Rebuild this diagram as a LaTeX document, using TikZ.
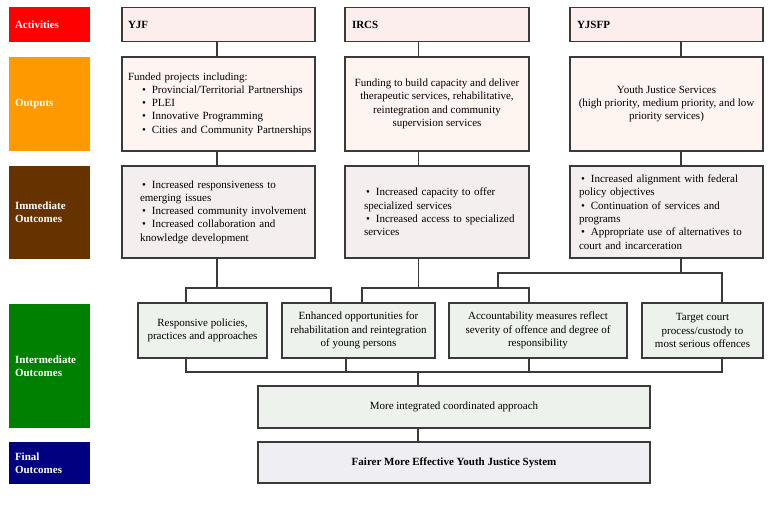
\documentclass[tikz,border=0pt]{standalone}
\usepackage{fontspec}
\setmainfont{Liberation Serif}
\usetikzlibrary{positioning}

\definecolor{actred}{HTML}{FF0000}
\definecolor{outorange}{HTML}{FF9900}
\definecolor{immbrown}{HTML}{663300}
\definecolor{intgreen}{HTML}{008000}
\definecolor{finnavy}{HTML}{000080}
\definecolor{actfill}{HTML}{FDEEEE}
\definecolor{outfill}{HTML}{FEF4F0}
\definecolor{immfill}{HTML}{F4EEEE}
\definecolor{intfill}{HTML}{EEF2EC}
\definecolor{finfill}{HTML}{EEEEF3}
\definecolor{boxline}{HTML}{3A3A3A}

\newcommand{\blt}[1]{\mbox{\hspace*{2pt}\textbullet\hspace{6pt}#1}}
\newcommand{\sblt}[1]{\mbox{\hspace*{14pt}\textbullet\hspace{6pt}#1}}

\tikzset{
  every node/.style={font=\fontsize{11}{13.3}\selectfont},
  cat/.style={rectangle, text=white, font=\fontsize{11}{13.3}\selectfont\bfseries,
    minimum width=81pt, text width=69pt, inner sep=6pt, align=left},
  cell/.style={rectangle, draw=boxline, line width=1.1pt, inner sep=6pt},
  link/.style={draw=boxline, line width=1.1pt}
}

\begin{document}
\begin{tikzpicture}[x=1pt,y=-1pt]
			\useasboundingbox (0,0) rectangle (770,511);
			
			% Row labels
			\node[cat, fill=actred, minimum height=35pt] (catAct) at (49.5,24.5) {Activities};
			\node[cat, fill=outorange, minimum height=94pt] (catOut) at (49.5,104) {Outputs};
			\node[cat, fill=immbrown, minimum height=93pt] (catImm) at (49.5,212.5) {Immediate\\Outcomes};
			\node[cat, fill=intgreen, minimum height=124pt] (catInt) at (49.5,366) {Intermediate\\Outcomes};
			\node[cat, fill=finnavy, minimum height=42pt] (catFin) at (49.5,463) {Final\\Outcomes};
			
			% Activities
			\node[cell, fill=actfill, minimum width=193pt, minimum height=34pt, text width=181pt, align=left, font=\fontsize{11}{13.3}\selectfont\bfseries] (yjf) at (218.5,24.5) {YJF};
			\node[cell, fill=actfill, minimum width=184pt, minimum height=34pt, text width=170pt, inner xsep=7pt, align=left, font=\fontsize{11}{13.3}\selectfont\bfseries] (ircs) at (437,24.5) {IRCS};
			\node[cell, fill=actfill, minimum width=193pt, minimum height=34pt, text width=179pt, inner xsep=7pt, align=left, font=\fontsize{11}{13.3}\selectfont\bfseries] (yjsfp) at (666.5,24.5) {YJSFP};
			
			% Outputs
			\node[cell, fill=outfill, minimum width=193pt, minimum height=94pt, text width=181pt, align=left] (yjfOut) at (218.5,104)
			  {Funded projects including:\\
			   \sblt{Provincial/Territorial Partnerships}\\
			   \sblt{PLEI}\\
			   \sblt{Innovative Programming}\\
			   \sblt{Cities and Community Partnerships}};
			\node[cell, fill=outfill, minimum width=184pt, minimum height=94pt, align=center] (ircsOut) at (437,104)
			  {Funding to build capacity and deliver\\therapeutic services, rehabilitative,\\reintegration and community\\supervision services};
			\node[cell, fill=outfill, minimum width=193pt, minimum height=94pt, align=center] (yjsfpOut) at (666.5,104)
			  {Youth Justice Services\\(high priority, medium priority, and low\\priority services)};
			
			% Immediate outcomes
			\node[cell, fill=immfill, minimum width=193pt, minimum height=92pt, text width=157pt, inner xsep=18pt, align=left] (yjfImm) at (218.5,212)
			  {\blt{Increased responsiveness to}\\emerging issues\\
			   \blt{Increased community involvement}\\
			   \blt{Increased collaboration and}\\knowledge development};
			\node[cell, fill=immfill, minimum width=184pt, minimum height=92pt, text width=146pt, inner xsep=19pt, align=left] (ircsImm) at (437,212)
			  {\blt{Increased capacity to offer}\\specialized services\\
			   \blt{Increased access to specialized}\\services};
			\node[cell, fill=immfill, minimum width=193pt, minimum height=92pt, text width=175pt, inner xsep=9pt, align=left] (yjsfpImm) at (666.5,212)
			  {\blt{Increased alignment with federal}\\policy objectives\\
			   \blt{Continuation of services and}\\programs\\
			   \blt{Appropriate use of alternatives to}\\court and incarceration};
			
			% Intermediate outcomes
			\node[cell, fill=intfill, minimum width=129pt, minimum height=55pt, align=center] (resp) at (202.5,330.5)
			  {Responsive policies,\\practices and approaches};
			\node[cell, fill=intfill, minimum width=153pt, minimum height=55pt, align=center] (enh) at (358.5,330.5)
			  {Enhanced opportunities for\\rehabilitation and reintegration\\of young persons};
			\node[cell, fill=intfill, minimum width=178pt, minimum height=55pt, align=center] (acc) at (538,330.5)
			  {Accountability measures reflect\\severity of offence and degree of\\responsibility};
			\node[cell, fill=intfill, minimum width=121pt, minimum height=55pt, align=center] (tgt) at (702.5,330.5)
			  {Target court\\process/custody to\\most serious offences};
			\node[cell, fill=intfill, minimum width=392pt, minimum height=42pt] (integ) at (454,407)
			  {More integrated coordinated approach};
			
			% Final outcome
			\node[cell, fill=finfill, minimum width=392pt, minimum height=41pt, font=\fontsize{11}{13.3}\selectfont\bfseries] (fin) at (454,462.5)
			  {Fairer More Effective Youth Justice System};
			
			% Bus lines
			\coordinate (busYjf) at (0,288);
			\coordinate (busYjsfp) at (0,273);
			\coordinate (busLow) at (0,372);
			
			% Connection points
			\coordinate (yjfT) at ([xshift=-1.5pt]yjfImm.south);
			\coordinate (ircsT) at ([xshift=-18.5pt]ircsImm.south);
			\coordinate (yjsfpT) at ([xshift=14.5pt]yjsfpImm.south);
			\coordinate (respN) at ([xshift=-16.5pt]resp.north);
			\coordinate (enhNa) at ([xshift=-27.5pt]enh.north);
			\coordinate (enhNb) at ([xshift=3.5pt]enh.north);
			\coordinate (accN) at ([xshift=-9pt]acc.north);
			\coordinate (tgtN) at ([xshift=19.5pt]tgt.north);
			\coordinate (respS) at ([xshift=-16.5pt]resp.south);
			\coordinate (enhS) at ([xshift=-12.5pt]enh.south);
			\coordinate (accS) at ([xshift=-9pt]acc.south);
			\coordinate (tgtS) at ([xshift=19.5pt]tgt.south);
			\coordinate (integN) at ([xshift=-36pt]integ.north);
			\coordinate (integS) at ([xshift=-36pt]integ.south);
			
			% Columns
			\draw[link] ([xshift=-1.5pt]yjf.south) -- ([xshift=-1.5pt]yjfOut.north);
			\draw[link] ([xshift=-1.5pt]yjfOut.south) -- ([xshift=-1.5pt]yjfImm.north);
			\draw[link] ([xshift=-18.5pt]ircs.south) -- ([xshift=-18.5pt]ircsOut.north);
			\draw[link] ([xshift=-18.5pt]ircsOut.south) -- ([xshift=-18.5pt]ircsImm.north);
			\draw[link] ([xshift=14.5pt]yjsfp.south) -- ([xshift=14.5pt]yjsfpOut.north);
			\draw[link] ([xshift=14.5pt]yjsfpOut.south) -- ([xshift=14.5pt]yjsfpImm.north);
			
			% Immediate to intermediate
			\draw[link] (yjfT) -- (yjfT |- busYjf);
			\draw[link] (respN) -- (respN |- busYjf) -- (enhNa |- busYjf) -- (enhNa);
			\draw[link] (ircsT) -- (ircsT |- busYjf);
			\draw[link] (enhNb) -- (enhNb |- busYjf) -- (accN |- busYjf) -- (accN);
			\draw[link] (yjsfpT) -- (yjsfpT |- busYjsfp);
			\draw[link] ([xshift=-31pt]accN |- busYjf) -- ([xshift=-31pt]accN |- busYjsfp) -- (tgtN |- busYjsfp) -- (tgtN);
			
			% Intermediate to final
			\draw[link] (respS) -- (respS |- busLow) -- (tgtS |- busLow) -- (tgtS);
			\draw[link] (enhS) -- (enhS |- busLow);
			\draw[link] (accS) -- (accS |- busLow);
			\draw[link] (integN |- busLow) -- (integN);
			\draw[link] (integS) -- ([xshift=-36pt]fin.north);
		\end{tikzpicture}
\end{document}
